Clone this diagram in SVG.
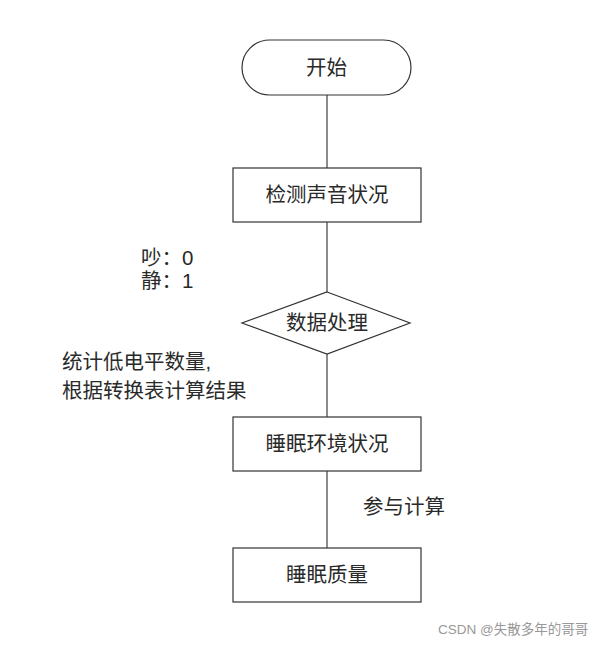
<svg xmlns="http://www.w3.org/2000/svg" width="601" height="645" viewBox="0 0 601 645">
<style>
.s{fill:#fff;stroke:#333;stroke-width:1.2}
.t{font-family:"Liberation Sans","Noto Sans CJK SC",sans-serif;font-size:20.5px;fill:#2a2a2a}
.c{text-anchor:middle}
.l{stroke:#666;stroke-width:1.5;fill:none}
.w{font-family:"Liberation Sans","Noto Sans CJK SC",sans-serif;font-size:13.5px;fill:#999}
</style>
<rect width="601" height="645" fill="#fff"/>
<g id="connectors">
<line class="l" x1="327" y1="95" x2="327" y2="168"/>
<line class="l" x1="327" y1="222" x2="327" y2="292"/>
<line class="l" x1="327" y1="354" x2="327" y2="417"/>
<line class="l" x1="327" y1="471" x2="327" y2="548"/>
</g>
<g id="start">
<rect class="s" x="242" y="40" width="169" height="55" rx="27.5"/>
<text class="t c" x="326.5" y="75">开始</text>
</g>
<g id="detect">
<rect class="s" x="233" y="168" width="188" height="54"/>
<text class="t c" x="327" y="202">检测声音状况</text>
</g>
<g id="process">
<polygon class="s" points="327,292 410,323 327,354 242,323"/>
<text class="t c" x="327" y="330">数据处理</text>
</g>
<g id="env">
<rect class="s" x="233" y="417" width="188" height="54"/>
<text class="t c" x="327" y="451">睡眠环境状况</text>
</g>
<g id="quality">
<rect class="s" x="233" y="548" width="188" height="54"/>
<text class="t c" x="327" y="582">睡眠质量</text>
</g>
<g id="labels">
<text class="t" x="141" y="265">吵：0</text>
<text class="t" x="141" y="288">静：1</text>
<text class="t" x="62" y="369">统计低电平数量,</text>
<text class="t" x="62" y="398">根据转换表计算结果</text>
<text class="t" x="363" y="514">参与计算</text>
<text class="w" x="438" y="634">CSDN @失散多年的哥哥</text>
</g>
</svg>
